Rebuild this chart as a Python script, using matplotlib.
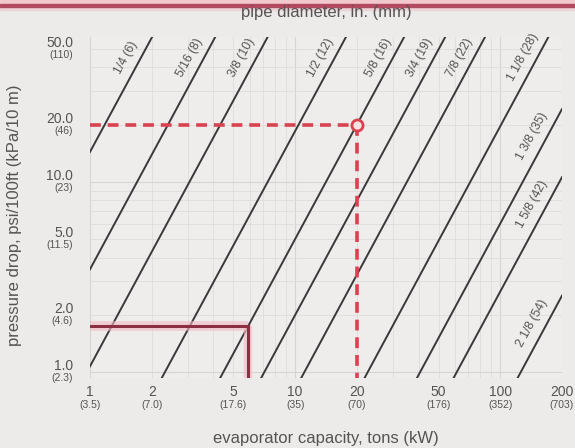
import numpy as np
import matplotlib
matplotlib.use("Agg")
import matplotlib.pyplot as plt
from matplotlib.patches import Rectangle

# Copper suction-line sizes: nominal diameter in inches (mm)
pipe_sizes = ["1/4 (6)", "5/16 (8)", "3/8 (10)", "1/2 (12)", "5/8 (16)", "3/4 (19)",
              "7/8 (22)", "1 1/8 (28)", "1 3/8 (35)", "1 5/8 (42)", "2 1/8 (54)"]
# Evaporator capacity (tons) carried by each size at 1 psi/100 ft and at 20 psi/100 ft
capacity_at_1psi = [0.263, 0.537, 0.966, 2.32, 4.47, 7.08, 11.1, 22.6, 40.7, 61.4, 126]
capacity_at_20psi = [1.18, 2.40, 4.32, 10.4, 20.0, 31.7, 49.6, 101, 182, 275, 563]

x_ticks = [1, 2, 5, 10, 20, 50, 100, 200]
x_tick_kw = ["(3.5)", "(7.0)", "(17.6)", "(35)", "(70)", "(176)", "(352)", "(703)"]
y_ticks = [1.0, 2.0, 5.0, 10.0, 20.0, 50.0]
y_tick_kpa = ["(2.3)", "(4.6)", "(11.5)", "(23)", "(46)", "(110)"]

# Worked examples
design_capacity, design_drop = 20, 20
small_capacity, small_drop = 5.9, 1.75

bg = "#edeaea"
ink = "#555353"
line_col = "#3a383a"

plt.rcParams["font.family"] = ["Liberation Sans", "DejaVu Sans"]

W, H = 575, 448
fig = plt.figure(figsize=(W / 100, H / 100), dpi=100, facecolor=bg)
ax = fig.add_axes([90 / W, 1 - 378 / H, 472 / W, 341 / H])
ax.set_facecolor("#efecec")
ax.set_xscale("log")
ax.set_yscale("log")
ax.set_xlim(1, 200)
ax.set_ylim(0.93, 57.8)
for s in ax.spines.values():
    s.set_visible(False)
ax.grid(which="major", color="#d8d4d4", lw=0.8)
ax.grid(which="minor", color="#e0dcdc", lw=0.6)
ax.tick_params(which="both", length=0, labelleft=False, labelbottom=False)

# Pipe-size lines (straight on log-log axes)
for q1, q20 in zip(capacity_at_1psi, capacity_at_20psi):
    ax.axline((q1, 1.0), (q20, 20.0), color=line_col, lw=1.4, zorder=3)

# Labels laid along each line near where it leaves the plot
bb = ax.bbox
for name, q1, q20 in zip(pipe_sizes, capacity_at_1psi, capacity_at_20psi):
    p1 = ax.transData.transform((q1, 1.0))
    p2 = ax.transData.transform((q20, 20.0))
    d = p2 - p1
    d = d / np.hypot(*d)
    t_top = (bb.y1 - p1[1]) / d[1]
    t_right = (bb.x1 - p1[0]) / d[0]
    end = p1 + min(t_top, t_right) * d
    back = 30 if t_top <= t_right else 38
    normal = np.array([-d[1], d[0]])
    centre = end - back * d + 13 * normal
    xd, yd = ax.transData.inverted().transform(centre)
    ang = np.degrees(np.arctan2(d[1], d[0]))
    ax.text(xd, yd, name, rotation=ang, rotation_mode="anchor", ha="center",
            va="center", fontsize=8.8, color=ink, zorder=4)

# Example selections
ax.plot([1, small_capacity], [small_drop, small_drop], color="#f2b9c2", lw=7,
        alpha=0.6, solid_capstyle="butt", zorder=4)
ax.plot([small_capacity, small_capacity], [small_drop, 0.93], color="#f2b9c2", lw=6,
        alpha=0.6, solid_capstyle="butt", zorder=4)
ax.plot([1, small_capacity, small_capacity], [small_drop, small_drop, 0.93],
        color="#8c2f43", lw=2.2, solid_joinstyle="miter", zorder=5)

ax.plot([1, design_capacity], [design_drop, design_drop], color="#d8434f", lw=2.6,
        dashes=(3, 1.9), zorder=5)
ax.plot([design_capacity, design_capacity], [design_drop, 0.93], color="#d8434f",
        lw=2.6, dashes=(3, 1.9), zorder=5)
ax.plot([design_capacity], [design_drop], "o", ms=8, mfc="#f8e2e2", mec="#d8434f",
        mew=2, zorder=6)

# Dual-unit tick labels
for v, kpa in zip(y_ticks, y_tick_kpa):
    ax.annotate(f"{v:.1f}", xy=(0, v), xycoords=("axes fraction", "data"),
                xytext=(-12, 4.3), textcoords="offset points", ha="right",
                va="center", fontsize=10, color=ink)
    ax.annotate(kpa, xy=(0, v), xycoords=("axes fraction", "data"),
                xytext=(-12.5, -4.6), textcoords="offset points", ha="right",
                va="center", fontsize=7.5, color=ink)
for v, kw in zip(x_ticks, x_tick_kw):
    ax.annotate(f"{v}", xy=(v, 0), xycoords=("data", "axes fraction"),
                xytext=(0, -10), textcoords="offset points", ha="center",
                va="center", fontsize=10, color=ink)
    ax.annotate(kw, xy=(v, 0), xycoords=("data", "axes fraction"),
                xytext=(0, -19.5), textcoords="offset points", ha="center",
                va="center", fontsize=7.5, color=ink)

fig.text(326 / W, 1 - 13 / H, "pipe diameter, in. (mm)", ha="center", va="center",
         fontsize=12, color=ink)
fig.text(326 / W, 1 - 438 / H, "evaporator capacity, tons (kW)", ha="center",
         va="center", fontsize=12, color=ink)
fig.text(15 / W, 1 - 215 / H, "pressure drop, psi/100ft (kPa/10 m)", ha="center",
         va="center", rotation=90, fontsize=12, color=ink)

# Header rule
fig.patches.append(Rectangle((0, 1 - 4 / H), 1, 4 / H, transform=fig.transFigure,
                             color="#f2c8ce", zorder=0))
fig.patches.append(Rectangle((0, 1 - 7.5 / H), 1, 3.5 / H, transform=fig.transFigure,
                             color="#b24a5f", zorder=1))
fig.patches.append(Rectangle((0, 1 - 10 / H), 1, 2.5 / H, transform=fig.transFigure,
                             color="#ecd3d7", zorder=0))

fig.savefig("out.png", dpi=100, facecolor=bg)
